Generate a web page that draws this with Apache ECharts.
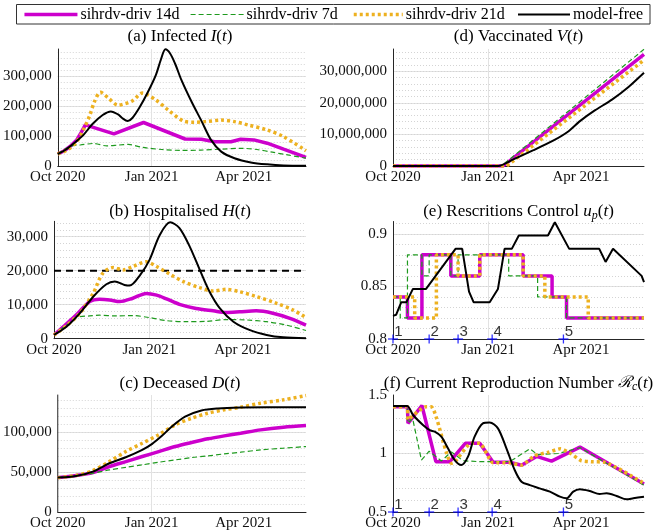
<!DOCTYPE html>
<html><head><meta charset="utf-8">
<script src="https://cdn.jsdelivr.net/npm/echarts@6/dist/echarts.min.js"></script>
<style>html,body{margin:0;padding:0;background:#fff}#c{width:668px;height:532px}</style>
</head><body><div id="c"></div>
<script>
// ---------- x axis (days since 1 Oct 2020) ----------
const xMaxDay = 243;
const xTickDays = [0, 92, 182];
const xTickLabels = ['Oct 2020', 'Jan 2021', 'Apr 2021'];
const seriesNames = ['sihrdv-driv 14d', 'sihrdv-driv 7d', 'sihrdv-driv 21d', 'model-free'];

// ---------- (a) Infected ----------
const inf14 = [[0,40000],[6,50000],[12,65000],[18.6,87000],[23,112000],[27,137000],[55,107000],[84,145000],[124.6,90000],[140.6,89000],[153.5,81000],[169.6,81000],[179,89000],[192,87000],[205,76000],[221,56000],[243,29000]];
const inf7 = [[0,40000],[8,58000],[15,68000],[22,70000],[35,75000],[48,67000],[60,70000],[69,72000],[83,62000],[102,55000],[121,52000],[140,53000],[160,56000],[180,59000],[195,55000],[210,46000],[225,37000],[243,26000]];
const inf21 = [[0,40000],[10,55000],[18.6,81000],[25,120000],[31.5,170000],[36,215000],[41.8,246000],[50,225000],[59,203000],[66,208000],[73,217000],[83,243000],[96,220000],[108,187000],[123,150000],[133,146000],[145,148000],[160,153000],[173,148000],[186,137000],[205,120000],[221,98000],[243,51000]];
const infMF = [[0,40000],[8,55000],[18,82000],[25,103000],[34,140000],[44,170000],[52,182000],[59,172000],[63,160000],[68.5,150000],[73,160000],[80,195000],[88,245000],[96,303000],[101,355000],[105.4,389000],[110,375000],[115,340000],[121,287000],[131,214000],[141,148000],[150,87000],[160,48000],[173,26000],[189,12000],[205,5500],[221,2000],[243,800]];

// ---------- (b) Hospitalised ----------
const hos14 = [[0,1100],[10,3800],[21.6,7000],[34.4,10900],[44,11600],[53.7,11400],[63.4,10900],[76,11900],[89,13300],[99,12800],[108.5,11700],[121,10100],[137,8900],[153.5,8200],[166,7700],[179,7900],[195,8200],[211,7500],[227.5,6000],[243,4000]];
const hos7 = [[0,1100],[12,4000],[21.6,6200],[34.4,6700],[44,6900],[60,6700],[76,6800],[92,6200],[108.5,5300],[127.8,5000],[147,5100],[166,5600],[185.7,5500],[205,5000],[224,4000],[243,2400]];
const hos21 = [[0,1100],[12,3800],[25,7500],[37.7,13300],[47,19200],[57,20900],[66.6,20200],[76,21200],[89,22600],[99,21200],[112,18900],[124.6,16800],[140.6,15000],[153.5,14000],[166,14500],[179,13800],[195,12400],[214.7,10400],[230.8,8400],[243,6200]];
const hosMF = [[0,1100],[12,3500],[25,7500],[38,12400],[50.5,16000],[58.6,16800],[68,15800],[73,15600],[83,18700],[92,23100],[102,30500],[112,34200],[121,32500],[131,27000],[140.6,20200],[150,13800],[160,8900],[173,5000],[189,2500],[205,1100],[221,400],[243,100]];
const hosCap = [[0,20000],[243,20000]];

// ---------- (c) Deceased ----------
const dec14 = [[0,42900],[18,45500],[34.4,49200],[50.5,56700],[66.6,62900],[82.7,69200],[98.8,75400],[115,81700],[131,86700],[147,91300],[163,95000],[179,98300],[198.6,102500],[221,105800],[243,107900]];
const dec7 = [[0,42900],[18,45300],[34.4,48300],[50.5,52500],[66.6,55800],[82.7,58800],[98.8,62100],[115,65000],[131,67900],[147,70000],[163,72500],[179,74600],[198.6,77500],[221,79600],[243,81700]];
const dec21 = [[0,42900],[18,45500],[34.4,51700],[50.5,62900],[66.6,75400],[82.7,85800],[98.8,96300],[115,108800],[131,117000],[147,123300],[163,127500],[179,130800],[198.6,135800],[221,140000],[243,145400]];
const decMF = [[0,42900],[18,45000],[34.4,50400],[50.5,60800],[66.6,68300],[82.7,77500],[92.4,85000],[102,95000],[111.7,106700],[124.6,119000],[140.6,126700],[156.7,129200],[179,130400],[205,130800],[243,130800]];

// ---------- (d) Vaccinated ----------
const vac14 = [[0,0],[106.6,0],[243,35300000]];
const vac7 = [[0,0],[105,0],[243,36900000]];
const vac21 = [[0,0],[110,0],[243,33500000]];
const vacMF = [[0,0],[102,0],[116,2000000],[136,5000000],[155,8000000],[170,11000000],[181,14200000],[195,17500000],[212,21000000],[228,25000000],[243,29500000]];

// ---------- (e) Restrictions control (step values) ----------
const ctrlDays14 = [0,14,28,56,84,126,154,168,243];
const ctrl14 = [0.84,0.82,0.88,0.86,0.88,0.86,0.84,0.82,0.82];
const ctrlDays7 = [0,7,14,28,35,56,63,112,140,168,243];
const ctrl7 = [0.84,0.82,0.88,0.86,0.88,0.86,0.88,0.86,0.84,0.82,0.82];
const ctrlDays21 = [0,21,42,63,84,126,147,189,243];
const ctrl21 = [0.84,0.82,0.88,0.86,0.88,0.86,0.84,0.82,0.82];
const ctrlMF = [[0,0.822],[3,0.823],[8,0.835],[13,0.835],[19.3,0.8476],[32,0.8476],[60.5,0.8857],[67,0.8857],[73.6,0.845],[78,0.835],[93.6,0.835],[101.6,0.8476],[108,0.8857],[115,0.8857],[121.8,0.8984],[150,0.8984],[156.7,0.911],[170.6,0.8857],[199.7,0.8857],[205.8,0.8733],[213,0.8857],[240.7,0.86],[243,0.854]];

// ---------- (f) Current reproduction number ----------
const rep14 = [[0,1.4],[14,1.4],[14.5,1.258],[28,1.41],[41.5,0.93],[55,0.93],[70,1.087],[84,1.087],[97,0.925],[113,0.925],[124.4,0.9],[139,0.975],[153.5,0.935],[181,1.055],[243,0.74]];
const rep7 = [[0,1.4],[14,1.4],[14.5,1.26],[19,1.3],[27.5,0.944],[35,1.02],[46.8,0.936],[56.5,1.014],[67.8,0.938],[84,0.93],[113,0.93],[132.5,1.04],[140,0.99],[160,1.0],[181,1.05],[243,0.73]];
const rep21 = [[0,1.4],[14,1.4],[14.5,1.29],[32,1.4],[37,1.4],[56.5,0.916],[60,0.93],[76,1.087],[84,1.087],[97,0.92],[113,0.92],[124,0.9],[137,0.98],[150,1.01],[162,1.04],[172,1.0],[182,0.94],[192,0.93],[205,0.925],[243,0.745]];
const repMF = [[0,1.406],[13.6,1.406],[19.4,1.329],[29,1.244],[35.5,1.2],[40.4,1.186],[46.8,1.144],[53.2,1.044],[59.7,0.944],[66.2,0.902],[72.6,0.973],[79,1.144],[87,1.258],[93.6,1.266],[101.6,1.215],[109.8,1.044],[117.8,0.859],[124.4,0.759],[132.5,0.73],[142,0.702],[151.9,0.674],[161.6,0.631],[168,0.617],[174.5,0.674],[181,0.694],[190.6,0.679],[200,0.654],[206.8,0.66],[216.5,0.637],[226,0.608],[232.6,0.617],[243,0.631]];

// ---------- decision points ----------
const decisionDays = [0, 35, 63, 96, 165];
const decisionLabels = ['1', '2', '3', '4', '5'];

// ---------- layout / styles ----------
const SERIF = 'Liberation Serif';
const panels = [
  {left:54,  top:49,    width:252, height:117,   ymin:0,   ymax:390000,   yint:100000,   yminor:20000,   comma:true,
   title:'(a) Infected {i|I}({i|t})', titleTop:26.6},
  {left:54,  top:221.3, width:252, height:117.4, ymin:0,   ymax:34500,    yint:10000,    yminor:2000,    comma:true,
   title:'(b) Hospitalised {i|H}({i|t})', titleTop:201.6},
  {left:54,  top:395,   width:252, height:117,   ymin:0,   ymax:146000,   yint:50000,    yminor:10000,   comma:true,
   title:'(c) Deceased {i|D}({i|t})', titleTop:374},
  {left:393, top:49,    width:251, height:117,   ymin:0,   ymax:37000000, yint:10000000, yminor:2000000, comma:true,
   title:'(d) Vaccinated {i|V}({i|t})', titleTop:26.6},
  {left:393, top:221.5, width:251, height:117.5, ymin:0.8, ymax:0.9117,   yint:0.05,     yminor:0.01,    comma:false,
   title:'(e) Rescritions Control {i|u}{sub|p}({i|t})', titleTop:201.6},
  {left:393, top:395,   width:251, height:117,   ymin:0.5, ymax:1.5,      yint:0.5,      yminor:0.1,     comma:false, showMax:true,
   title:'(f) Current Reproduction Number {cal|ℛ}{sub|c}({i|t})', titleTop:373.3}
];
const lineStyles = [
  {color:'#CC00CC', width:3.5, type:'solid'},
  {color:'#1E9A1E', width:1.2, type:[5,3]},
  {color:'#EDB120', width:3.5, type:[3,3]},
  {color:'#000000', width:2, type:'solid'}
];

function commaFmt(v){ return String(Math.round(v)).replace(/\B(?=(\d{3})+(?!\d))/g, ','); }

const grid = [], xAxis = [], yAxis = [], series = [], title = [];
panels.forEach((p, i) => {
  grid.push({left:p.left, top:p.top, width:p.width, height:p.height, containLabel:false});
  xAxis.push({
    type:'value', gridIndex:i, min:0, max:xMaxDay,
    axisLine:{show:true, onZero:false, lineStyle:{color:'#262626', width:1}},
    axisTick:{show:false, customValues:xTickDays},
    axisLabel:{customValues:xTickDays, formatter:v => xTickLabels[xTickDays.indexOf(v)] || '',
      fontFamily:SERIF, fontSize:15, color:'#111', margin:4, hideOverlap:false},
    splitLine:{show:true, showMinLine:false, showMaxLine:false, lineStyle:{color:'#e2e2e2', width:1}}
  });
  yAxis.push({
    type:'value', gridIndex:i, min:p.ymin, max:p.ymax, interval:p.yint,
    axisLine:{show:true, onZero:false, lineStyle:{color:'#262626', width:1}},
    axisTick:{show:false},
    axisLabel:{showMaxLabel:!!p.showMax, showMinLabel:true, fontFamily:SERIF, fontSize:15, color:'#111', margin:6,
      formatter: p.comma ? commaFmt : (v => String(+v.toFixed(3)))},
    splitLine:{show:true, showMinLine:false, showMaxLine:false, lineStyle:{color:'#e2e2e2', width:1}}
  });
  yAxis.push({
    type:'value', gridIndex:i, min:p.ymin, max:p.ymax, interval:p.yminor, position:'right',
    axisLine:{show:false}, axisTick:{show:false}, axisLabel:{show:false},
    splitLine:{show:true, showMinLine:false, showMaxLine:false, lineStyle:{color:'#d4d4d4', width:1, type:[1,2]}}
  });
  title.push({
    text:p.title, left:p.left + p.width/2, top:p.titleTop, textAlign:'center', padding:0,
    textStyle:{fontFamily:SERIF, fontSize:17, fontWeight:'normal', color:'#000', lineHeight:20,
      rich:{
        i:{fontFamily:SERIF, fontSize:17, fontStyle:'italic', color:'#000', lineHeight:20},
        cal:{fontFamily:'DejaVu Serif', fontSize:16, fontStyle:'italic', color:'#000', lineHeight:20},
        sub:{fontFamily:SERIF, fontSize:12, fontStyle:'italic', color:'#000', lineHeight:11, verticalAlign:'bottom'}
      }}
  });
});

function addLine(gi, k, data, opts) {
  series.push(Object.assign({
    type:'line', name:seriesNames[k], xAxisIndex:gi, yAxisIndex:gi*2, data:data,
    symbol:'none', lineStyle:Object.assign({}, lineStyles[k]), itemStyle:{color:lineStyles[k].color},
    silent:true, animation:false, z:2+k
  }, opts || {}));
}
function stepData(days, vals){ return days.map((d, j) => [d, vals[j]]); }

// (a)
addLine(0,0,inf14,{smooth:false}); addLine(0,1,inf7,{smooth:0.3}); addLine(0,2,inf21,{smooth:0.3}); addLine(0,3,infMF,{smooth:0.3});
// (b)
addLine(1,0,hos14,{smooth:0.3}); addLine(1,1,hos7,{smooth:0.3}); addLine(1,2,hos21,{smooth:0.3});
series.push({type:'line', name:'cap', xAxisIndex:1, yAxisIndex:2, data:hosCap, symbol:'none', silent:true, animation:false,
  lineStyle:{color:'#000', width:2, type:[7,5]}, z:2});
addLine(1,3,hosMF,{smooth:0.3});
// (c)
addLine(2,0,dec14,{smooth:0.3}); addLine(2,1,dec7,{smooth:0.3}); addLine(2,2,dec21,{smooth:0.3}); addLine(2,3,decMF,{smooth:0.3});
// (d)
addLine(3,0,vac14); addLine(3,1,vac7); addLine(3,2,vac21); addLine(3,3,vacMF,{smooth:0.2});
// (e)
addLine(4,0,stepData(ctrlDays14,ctrl14),{step:'end'});
addLine(4,1,stepData(ctrlDays7,ctrl7),{step:'end'});
addLine(4,2,stepData(ctrlDays21,ctrl21),{step:'end'});
addLine(4,3,ctrlMF);
// (f)
addLine(5,0,rep14); addLine(5,1,rep7); addLine(5,2,rep21,{smooth:0.2}); addLine(5,3,repMF,{smooth:0.3});

// decision markers in (e) and (f)
[4,5].forEach(gi => {
  const ymin = panels[gi].ymin;
  const pts = decisionDays.map(d => [d, ymin]);
  series.push({type:'scatter', xAxisIndex:gi, yAxisIndex:gi*2, data:pts, symbol:'rect', symbolSize:[10,1.3],
    itemStyle:{color:'#0000FF'}, clip:false, silent:true, animation:false, z:10});
  series.push({type:'scatter', xAxisIndex:gi, yAxisIndex:gi*2, data:pts, symbol:'rect', symbolSize:[1.3,9],
    itemStyle:{color:'#0000FF'}, clip:false, silent:true, animation:false, z:10,
    label:{show:true, formatter:q => decisionLabels[q.dataIndex], position:[2,5], align:'left', verticalAlign:'bottom',
      fontFamily:'Liberation Sans', fontSize:15, color:'#000'}});
});

// legends (one per entry, laid out in a single framed row)
const legendPos = [{left:22.7, w:53}, {left:190, w:53}, {left:352, w:49}, {left:517, w:52}];
const legend = seriesNames.map((n, k) => ({
  data:[n], left:legendPos[k].left, top:6.5, itemWidth:legendPos[k].w, itemHeight:14, padding:0, itemGap:0,
  itemStyle:{opacity:0, borderWidth:0},
  lineStyle:{width:lineStyles[k].width, type:lineStyles[k].type, color:lineStyles[k].color},
  textStyle:{fontFamily:SERIF, fontSize:16, color:'#000', padding:[0,0,0,-2]},
  selectedMode:false
}));

const chart = echarts.init(document.getElementById('c'), null, {renderer:'canvas'});
chart.setOption({
  animation:false, backgroundColor:'#fff',
  grid, xAxis, yAxis, series, title, legend,
  graphic:[{type:'rect', shape:{x:16.5, y:4.5, width:633.5, height:19.5}, style:{fill:'#fff', stroke:'#333', lineWidth:1}, z:-10, silent:true}]
});
</script></body></html>
